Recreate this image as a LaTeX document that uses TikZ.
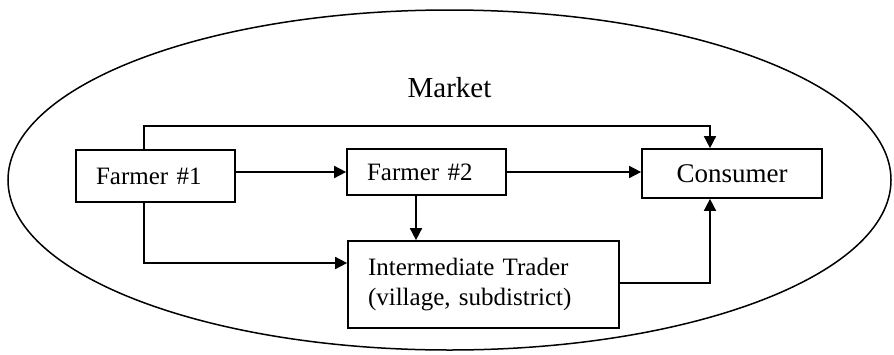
\documentclass[tikz,border=0pt]{standalone}
\usepackage{fontspec}
\setmainfont{Liberation Serif}
\usetikzlibrary{arrows.meta}
\begin{document}
\begin{tikzpicture}[x=1pt,y=-1pt,
  box/.style={draw=black, line width=1.7pt, rectangle, inner ysep=0pt, align=left},
  flow/.style={line width=1.6pt, -{Triangle[length=12pt,width=12pt]}},
  lbl/.style={font=\fontsize{25}{30}\selectfont}]
  \useasboundingbox (0,0) rectangle (894,354);

  % market boundary
  \draw[line width=1.5pt] (449.5,180) ellipse [x radius=441.5, y radius=170];
  \node[font=\fontsize{29}{34}\selectfont, anchor=base] (market) at (449.5,97) {Market};

  % actors
  \node[box, lbl, inner xsep=20pt, text width=119pt, minimum height=52pt] (f1) at (155.5,176) {Farmer \#1};
  \node[box, lbl, inner xsep=20pt, text width=119pt, minimum height=46pt] (f2) at (426.5,172) {Farmer \#2};
  \node[box, font=\fontsize{27}{32}\selectfont, align=center, inner xsep=0pt, minimum width=180pt, minimum height=49pt] (cons) at (732,173.5) {Consumer};
  \node[box, lbl, inner xsep=20pt, text width=231pt, minimum height=87pt] (trader) at (483.5,284.5) {Intermediate Trader\\(village, subdistrict)};

  % routing points
  \coordinate (f1out) at (144,0);
  \coordinate (consin) at (710,0);
  \coordinate (f2out) at (416,0);
  \coordinate (topline) at (0,126);
  \coordinate (lowline) at (0,263);
  \coordinate (trline) at (0,283);

  % flows
  \draw[flow] (f1out |- f1.north) -- (f1out |- topline) -- (consin |- topline) -- (consin |- cons.north);
  \draw[flow] (f1.east |- f2.west) -- (f2.west);
  \draw[flow] (f2.east) -- (f2.east -| cons.west);
  \draw[flow] (f2out |- f2.south) -- (f2out |- trader.north);
  \draw[flow] (f1out |- f1.south) -- (f1out |- lowline) -- (lowline -| trader.west);
  \draw[flow] (trline -| trader.east) -- (consin |- trline) -- (consin |- cons.south);
\end{tikzpicture}
\end{document}
